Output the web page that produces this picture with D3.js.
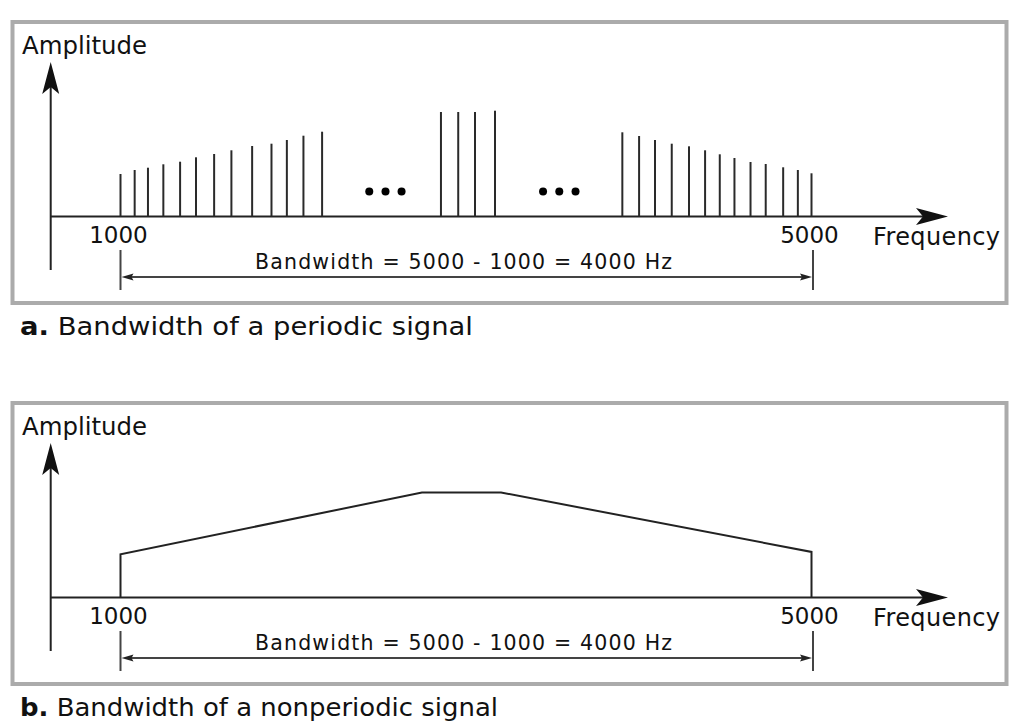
<!DOCTYPE html>
<html>
<head>
  <meta charset="UTF-8">
  <title>Bandwidth of periodic and nonperiodic signals</title>
  <script src="https://d3js.org/d3.v7.min.js"></script>
  <style>
    body {
      margin: 0;
      background: #fff;
      font-family: "DejaVu Sans", Verdana, sans-serif;
    }
    .frame {
      fill: none;
      stroke: #ababab;
      stroke-width: 4;
    }
    .axis-line {
      stroke: #222;
      stroke-width: 2;
    }
    .spike {
      stroke: #2a2a2a;
      stroke-width: 2;
    }
    .envelope {
      fill: none;
      stroke: #222;
      stroke-width: 2;
    }
    .bw-line {
      stroke: #444;
      stroke-width: 2;
    }
    text {
      fill: #111;
    }
  </style>
</head>
<body>
  <div id="chart"></div>
  <script>
    // periodic signal: discrete harmonics (Hz) and their amplitudes
    const spikeFreq = [
      1000, 1082, 1159, 1248, 1345, 1437, 1542, 1642, 1762, 1874, 1963, 2059, 2167,
      2855, 2955, 3052, 3168,
      3905, 4002, 4094, 4191, 4291, 4384, 4469, 4554, 4647, 4735, 4836, 4921, 5000
    ];
    const spikeAmp = [
      42.5, 46.5, 48.8, 52.2, 54.8, 59.2, 62.5, 66.2, 70.5, 72.8, 76.5, 80.8, 84.8,
      104.5, 104.5, 104.5, 105.8,
      84.2, 80.5, 76.5, 72.8, 70.2, 66.2, 62.2, 58.5, 54.5, 52.5, 49.2, 46.5, 43.2
    ];
    // "..." markers between the groups
    const dotFreq = [2440, 2534, 2627, 3446, 3540, 3634];
    const dotAmp = 25;

    // nonperiodic signal: continuous envelope
    const envFreq = [1000, 1000, 2745, 3203, 5000, 5000];
    const envAmp = [0, 43.3, 105, 105, 45.6, 0];

    const bandLow = 1000;
    const bandHigh = 5000;
    const tickLabels = [1000, 5000];
    const captionLetters = ["a.", "b."];
    const captionTexts = ["Bandwidth of a periodic signal", "Bandwidth of a nonperiodic signal"];

    const W = 1011, H = 722;
    const panelShift = 381;
    const axisY = 216.5;
    const axisX = 50.7;

    const x = d3.scaleLinear().domain([bandLow, bandHigh]).range([120.5, 811.5]);
    const y = d3.scaleLinear().domain([0, 100]).range([axisY, axisY - 100]);

    const svg = d3.select("#chart")
      .append("svg")
      .attr("width", W)
      .attr("height", H);

    const bigArrow = "M0,0 L-32,-8.5 L-25,0 L-32,8.5 Z";
    const smallArrow = "M0,0 L-12,-3.5 L-10,0 L-12,3.5 Z";

    const drawPanel = (idx) => {
      const g = svg.append("g")
        .attr("transform", `translate(0, ${idx * panelShift})`);

      g.append("rect")
        .attr("class", "frame")
        .attr("x", 12.5)
        .attr("y", 22)
        .attr("width", 994)
        .attr("height", 281);

      // axes
      g.append("line")
        .attr("class", "axis-line")
        .attr("x1", axisX).attr("y1", 270)
        .attr("x2", axisX).attr("y2", 70);
      g.append("path")
        .attr("d", bigArrow)
        .attr("fill", "#111")
        .attr("transform", `translate(${axisX}, 62) rotate(-90)`);

      g.append("line")
        .attr("class", "axis-line")
        .attr("x1", axisX).attr("y1", axisY)
        .attr("x2", 940).attr("y2", axisY);
      g.append("path")
        .attr("d", bigArrow)
        .attr("fill", "#111")
        .attr("transform", `translate(948, ${axisY})`);

      g.append("text")
        .attr("x", 22)
        .attr("y", 54)
        .attr("font-size", 24)
        .attr("textLength", 125)
        .attr("lengthAdjust", "spacingAndGlyphs")
        .text("Amplitude");

      g.append("text")
        .attr("x", 873)
        .attr("y", 245)
        .attr("font-size", 24)
        .attr("textLength", 127)
        .text("Frequency");

      g.selectAll(".tick-label")
        .data(tickLabels)
        .enter()
        .append("text")
        .attr("class", "tick-label")
        .attr("x", d => x(d) - 2)
        .attr("y", 243)
        .attr("text-anchor", "middle")
        .attr("font-size", 23)
        .text(d => d);

      // bandwidth dimension line
      g.selectAll(".bw-tick")
        .data([bandLow, bandHigh])
        .enter()
        .append("line")
        .attr("class", "bw-line bw-tick")
        .attr("x1", d => x(d) + (d === bandHigh ? 1.5 : 0))
        .attr("x2", d => x(d) + (d === bandHigh ? 1.5 : 0))
        .attr("y1", 250)
        .attr("y2", 290);
      g.append("line")
        .attr("class", "bw-line")
        .attr("x1", x(bandLow) + 6)
        .attr("x2", x(bandHigh) - 5)
        .attr("y1", 277)
        .attr("y2", 277);
      g.append("path")
        .attr("d", smallArrow)
        .attr("fill", "#222")
        .attr("transform", `translate(${x(bandLow) + 1}, 277) rotate(180)`);
      g.append("path")
        .attr("d", smallArrow)
        .attr("fill", "#222")
        .attr("transform", `translate(${x(bandHigh) + 0.5}, 277)`);

      g.append("text")
        .attr("x", 255)
        .attr("y", 269)
        .attr("font-size", 20.5)
        .attr("textLength", 417)
        .attr("lengthAdjust", "spacing")
        .text(`Bandwidth = ${bandHigh} - ${bandLow} = ${bandHigh - bandLow} Hz`);

      const cap = g.append("text")
        .attr("x", 20)
        .attr("y", 335)
        .attr("font-size", 25)
        .attr("textLength", idx === 0 ? 453 : 478)
        .attr("lengthAdjust", "spacingAndGlyphs");
      cap.append("tspan")
        .attr("font-weight", "bold")
        .text(captionLetters[idx]);
      cap.append("tspan").text(" " + captionTexts[idx]);

      return g;
    };

    const gA = drawPanel(0);
    const gB = drawPanel(1);

    // (a) periodic: spikes and ellipsis dots
    gA.selectAll(".spike")
      .data(spikeFreq)
      .enter()
      .append("line")
      .attr("class", "spike")
      .attr("x1", d => x(d))
      .attr("x2", d => x(d))
      .attr("y1", y(0))
      .attr("y2", (d, i) => y(spikeAmp[i]));

    gA.selectAll(".dot")
      .data(dotFreq)
      .enter()
      .append("circle")
      .attr("class", "dot")
      .attr("cx", d => x(d))
      .attr("cy", y(dotAmp))
      .attr("r", 4)
      .attr("fill", "#000");

    // (b) nonperiodic: envelope
    const line = d3.line()
      .x(d => x(d[0]))
      .y(d => y(d[1]));

    gB.append("path")
      .attr("class", "envelope")
      .attr("d", line(envFreq.map((f, i) => [f, envAmp[i]])));
  </script>
</body>
</html>
